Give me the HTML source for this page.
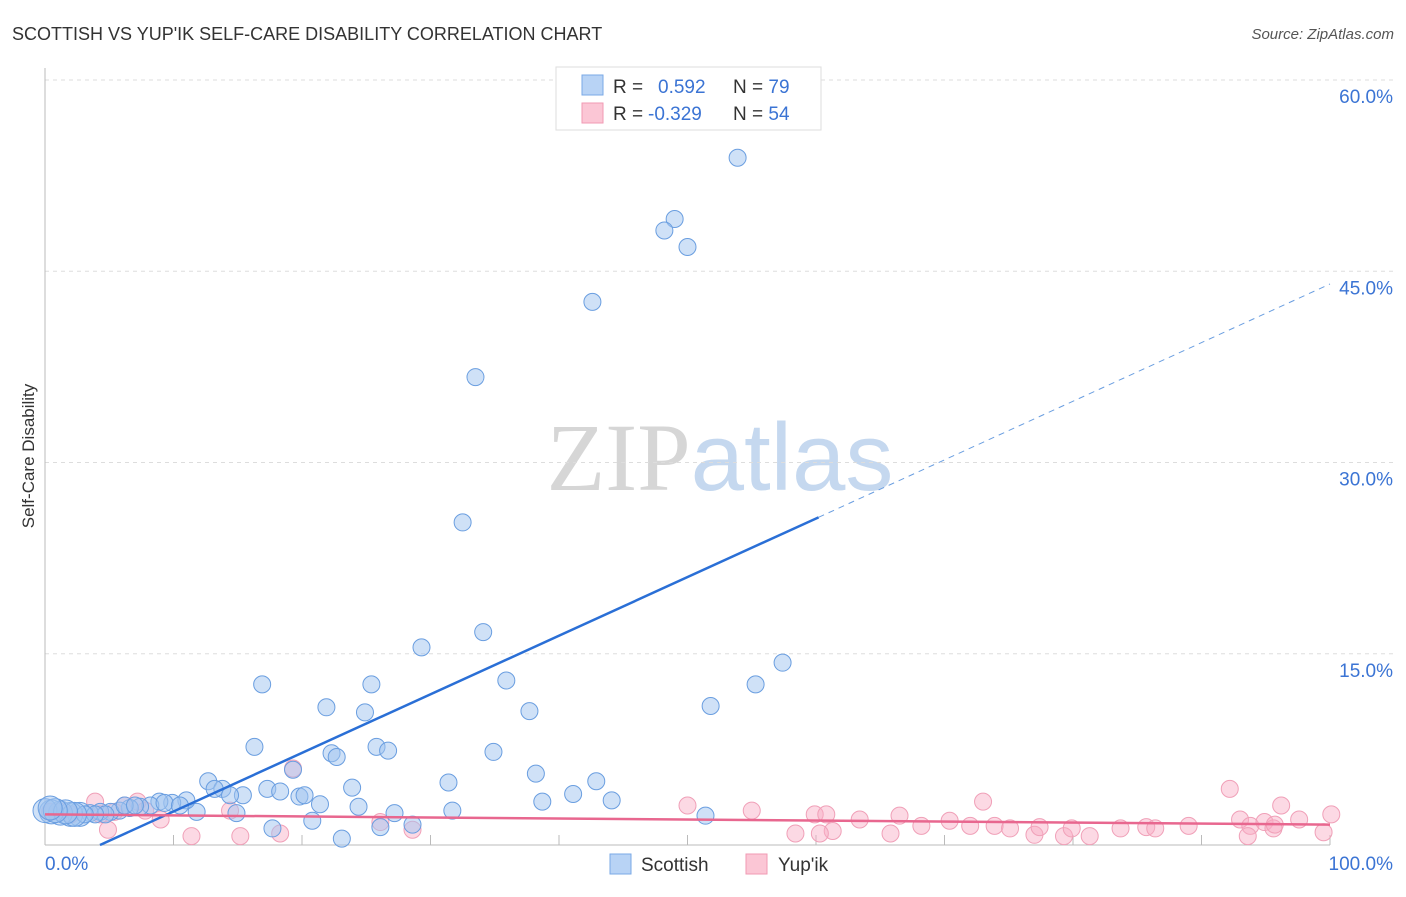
<!DOCTYPE html>
<html><head><meta charset="utf-8">
<style>
body{margin:0;background:#fff;font-family:"Liberation Sans",sans-serif;}
svg text{font-family:"Liberation Sans",sans-serif;}
</style></head>
<body>
<svg id="chart" width="1406" height="892" xmlns="http://www.w3.org/2000/svg">
<text x="12" y="40" font-size="18" fill="#333">SCOTTISH VS YUP'IK SELF-CARE DISABILITY CORRELATION CHART</text>
<text x="1394" y="39" font-size="15" fill="#555" text-anchor="end" font-style="italic">Source: ZipAtlas.com</text>
<text x="720" y="490" font-size="96" text-anchor="middle"><tspan fill="#d6d6d6" font-family="Liberation Serif">ZIP</tspan><tspan fill="#c5d8ef">atlas</tspan></text>
<g id="grid"></g>
<g id="axes"></g>
<g id="marks"></g>
<text transform="translate(34,456) rotate(-90)" font-size="17" fill="#333" text-anchor="middle">Self-Care Disability</text>
<g>
<rect x="556" y="67" width="265" height="63" fill="#fff" stroke="#ddd"/>
<rect x="582" y="75" width="21" height="20" fill="#b8d3f5" stroke="#7aa8e6"/>
<rect x="582" y="103" width="21" height="20" fill="#fbc6d5" stroke="#f09ab3"/>
<text x="613" y="93" font-size="19" fill="#333">R = <tspan fill="#3b74d4" x="658">0.592</tspan><tspan fill="#333" x="733">N = </tspan><tspan fill="#3b74d4">79</tspan></text>
<text x="613" y="120" font-size="19" fill="#333">R = <tspan fill="#3b74d4" x="648">-0.329</tspan><tspan fill="#333" x="733">N = </tspan><tspan fill="#3b74d4">54</tspan></text>
</g>
<g>
<rect x="610" y="854" width="21" height="20" fill="#b8d3f5" stroke="#7aa8e6"/>
<text x="641" y="871" font-size="19" fill="#333">Scottish</text>
<rect x="746" y="854" width="21" height="20" fill="#fbc6d5" stroke="#f09ab3"/>
<text x="778" y="871" font-size="19" fill="#333">Yup'ik</text>
</g>
</svg>
<script>
const yTicks=[15,30,45,60];
const yTickLabels=["15.0%","30.0%","45.0%","60.0%"];
const xTickLabels=["0.0%","100.0%"];
const scottishX=[53.9,49.0,48.2,50.0,42.6,33.5,32.5,34.1,29.3,57.4,16.9,25.4,55.3,35.9,21.9,24.9,37.7,51.8,16.3,25.8,26.7,22.3,22.7,34.9,12.7,23.9,31.4,38.2,42.9,19.3,41.1,44.1,38.7,13.8,15.4,17.3,18.3,19.8,20.2,21.4,24.4,27.2,31.7,14.9,11.8,11.0,9.9,8.9,8.2,7.4,6.6,5.8,5.1,4.3,3.5,2.7,2.0,1.2,0.5,0,17.7,20.8,26.1,28.6,23.1,51.4,13.2,14.4,9.3,10.5,6.2,7.0,4.7,3.9,3.1,2.3,1.6,0.8,0.4];
const scottishY=[53.9,49.1,48.2,46.9,42.6,36.7,25.3,16.7,15.5,14.3,12.6,12.6,12.6,12.9,10.8,10.4,10.5,10.9,7.7,7.7,7.4,7.2,6.9,7.3,5.0,4.5,4.9,5.6,5.0,5.9,4.0,3.5,3.4,4.4,3.9,4.4,4.2,3.8,3.9,3.2,3.0,2.5,2.7,2.5,2.6,3.5,3.3,3.4,3.1,3.0,2.9,2.7,2.6,2.6,2.5,2.4,2.4,2.5,2.6,2.7,1.3,1.9,1.4,1.6,0.5,2.3,4.4,3.9,3.3,3.1,3.1,3.1,2.4,2.4,2.4,2.4,2.6,2.7,2.9];
const yupikX=[19.3,3.9,4.9,6.2,7.2,9.0,11.4,15.2,18.3,28.6,26.1,14.4,4.3,2.0,1.2,0.4,5.4,7.8,50.0,55.0,59.9,60.8,61.3,60.3,58.4,63.4,65.8,68.2,70.4,72.0,73.9,73.0,77.0,77.4,79.3,79.9,81.3,85.7,86.4,89.0,92.2,93.0,93.8,94.9,95.6,96.2,97.6,99.5,100.1,93.6,95.7,75.1,66.5,83.7];
const yupikY=[6.0,3.4,1.2,3.1,3.4,2.0,0.7,0.7,0.9,1.2,1.8,2.7,2.4,2.4,2.6,2.6,2.6,2.7,3.1,2.7,2.4,2.4,1.1,0.9,0.9,2.0,0.9,1.5,1.9,1.5,1.5,3.4,0.8,1.4,0.7,1.3,0.7,1.4,1.3,1.5,4.4,2.0,1.5,1.8,1.3,3.1,2.0,1.0,2.4,0.7,1.6,1.3,2.3,1.3];
const blueTrend=[[4.28,0],[60.2,25.7],[100,44.0]];
const pinkTrend=[[0,2.4],[100,1.6]];
const NS="http://www.w3.org/2000/svg";
const X=v=>45+v*12.85, Y=v=>845-v*12.75;
function mk(tag,attrs,parent){const e=document.createElementNS(NS,tag);for(const k in attrs)e.setAttribute(k,attrs[k]);document.getElementById(parent).appendChild(e);return e;}
yTicks.forEach((t,i)=>{
 const l=mk('line',{x1:45,x2:1394,y1:Y(t),y2:Y(t),stroke:'#ddd','stroke-dasharray':'4,4'},'grid');
 
 
 const tx=mk('text',{x:1393,y:Y(t)+23,'font-size':19,fill:'#3b74d4','text-anchor':'end'},'grid');
 
 
 tx.textContent=yTickLabels[i];
});
let a=mk('line',{x1:45,x2:45,y1:68,y2:845,stroke:'#bbb'},'axes');


a=mk('line',{x1:45,x2:1330,y1:845,y2:845,stroke:'#bbb'},'axes');


for(let k=1;k<=10;k++){const t=mk('line',{x1:X(k*10),x2:X(k*10),y1:835,y2:845,stroke:'#bbb'},'axes');
 
 }
[[0,45,'start'],[100,1393,'end']].forEach((p,i)=>{const t=mk('text',{x:p[1],y:870,'font-size':19,fill:'#3b74d4','text-anchor':p[2]},'axes');
 
 
 t.textContent=xTickLabels[i];});
yupikX.forEach((v,i)=>{const c=mk('circle',{cx:X(v),cy:Y(yupikY[i]),r:8.5,fill:'rgba(248,170,195,0.45)',stroke:'#f0a0b8','stroke-width':1},'marks');
 
 });
scottishX.forEach((v,i)=>{const r=v<3?12:8.5;const c=mk('circle',{cx:X(v),cy:Y(scottishY[i]),r:r,fill:'rgba(160,195,240,0.5)',stroke:'#6a9ee0','stroke-width':1},'marks');
 
 });
let t1=mk('line',{x1:X(blueTrend[0][0]),y1:Y(blueTrend[0][1]),x2:X(blueTrend[1][0]),y2:Y(blueTrend[1][1]),stroke:'#2a6fd6','stroke-width':2.5},'marks');


t1=mk('line',{x1:X(blueTrend[1][0]),y1:Y(blueTrend[1][1]),x2:X(blueTrend[2][0]),y2:Y(blueTrend[2][1]),stroke:'#6a9ee0','stroke-width':1,'stroke-dasharray':'6,5'},'marks');


t1=mk('line',{x1:X(pinkTrend[0][0]),y1:Y(pinkTrend[0][1]),x2:X(pinkTrend[1][0]),y2:Y(pinkTrend[1][1]),stroke:'#e8678f','stroke-width':2.5},'marks');


</script>
</body></html>
